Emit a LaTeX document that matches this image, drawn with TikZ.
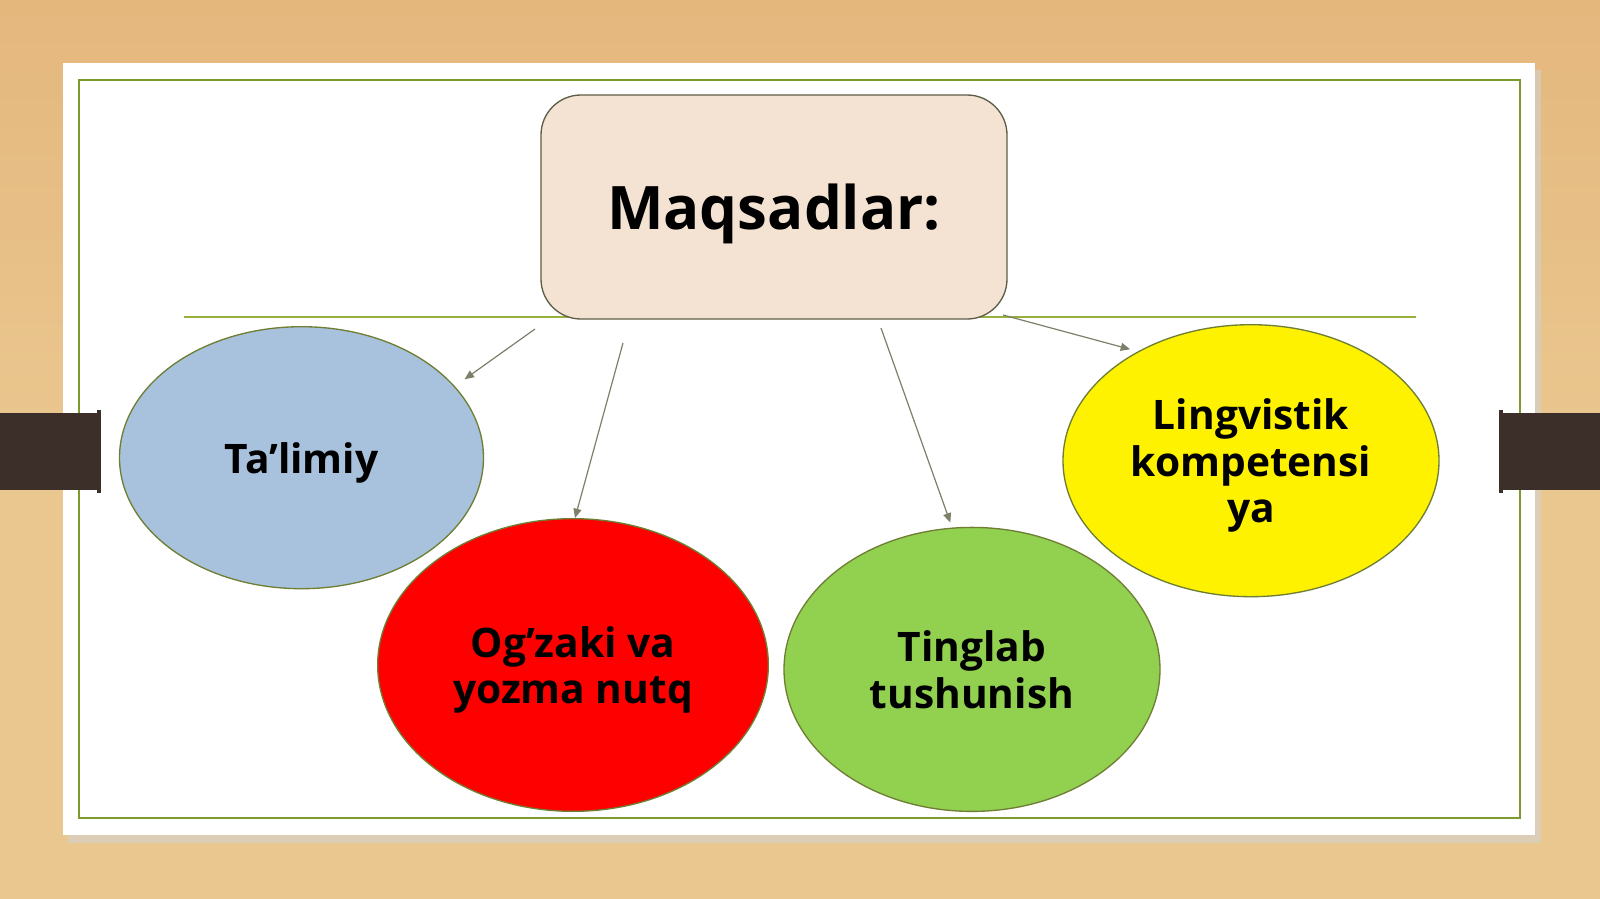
\documentclass[tikz,border=0pt]{standalone}
\usepackage{fontspec}
\setmainfont{Open Sans}
\usetikzlibrary{shapes.geometric,arrows.meta,calc}
\definecolor{woodA}{HTML}{EAC78F}
\definecolor{woodB}{HTML}{E4B77D}
\definecolor{frameg}{HTML}{7D9A2E}
\definecolor{lineg}{HTML}{97B13F}
\definecolor{olive}{HTML}{6E7F34}
\definecolor{boxfill}{HTML}{F4E3D3}
\definecolor{boxline}{HTML}{5E5E48}
\definecolor{bluef}{HTML}{A8C2DD}
\definecolor{greenf}{HTML}{92D050}
\definecolor{tabc}{HTML}{3C2F2A}
\definecolor{arrc}{HTML}{7C806A}
\tikzset{
  oval/.style={ellipse, draw=olive, line width=1pt, align=center,
    font=\fontsize{30.5}{35}\selectfont\bfseries, inner sep=0pt, text depth=0pt},
  conn/.style={draw=arrc, line width=0.9pt, -{Triangle[width=6pt,length=7pt]}},
}
\begin{document}
\begin{tikzpicture}[x=0.75pt,y=-0.75pt]
\useasboundingbox (0,0) rectangle (1600,899);
% background
\shade[top color=woodB, bottom color=woodA, middle color=woodA] (0,0) rectangle (1600,899);
% card shadow
\fill[black!18, opacity=0.6] (68,70) rectangle (1541,843);
\fill[white] (63,63) rectangle (1535,835);
\draw[frameg, line width=1.5pt] (79,80) rectangle (1520,818);
% side tabs
\fill[tabc] (0,413) rectangle (100,490);
\fill[tabc] (1500,413) rectangle (1600,490);
\fill[tabc] (97,410) rectangle (101,493);
\fill[tabc] (1499,410) rectangle (1503,493);
% horizontal line
\draw[lineg, line width=1.2pt] (184,317) -- (1416,317);
% central box
\node[draw=boxline, fill=boxfill, line width=1pt, rounded corners=30pt,
  minimum width=349.5pt, minimum height=168pt, inner sep=0pt, text depth=0pt,
  font=\fontsize{45}{50}\selectfont\bfseries] (box) at (774,207) {Maqsadlar:};
% ellipses
\node[oval, fill=bluef, minimum width=273pt, minimum height=196.5pt] (tal) at (301.5,457.7) {Ta’limiy};
\node[oval, fill=red, minimum width=293pt, minimum height=219.5pt] (og) at (573,665) {Og’zaki va\\yozma nutq};
\node[oval, fill=greenf, minimum width=282pt, minimum height=213pt] (tin) at (972,669.4) {Tinglab\\tushunish};
\node[oval, fill=yellow, minimum width=282pt, minimum height=204pt] (lin) at (1251,460.7) {Lingvistik\\kompetensi\\ya};
% connector starts
\coordinate (s1) at (535,329);
\coordinate (s2) at (623,343);
\coordinate (s3) at (881,328);
\coordinate (s4) at (1003,315);
\draw[conn, shorten >=9pt] (s1) -- (tal.25);
\draw[conn] (s2) -- ($(og.north)+(2,0)$);
\draw[conn, shorten >=4pt] (s3) -- (tin.98);
\draw[conn, shorten >=6pt] (s4) -- (lin.136);
\end{tikzpicture}
\end{document}
